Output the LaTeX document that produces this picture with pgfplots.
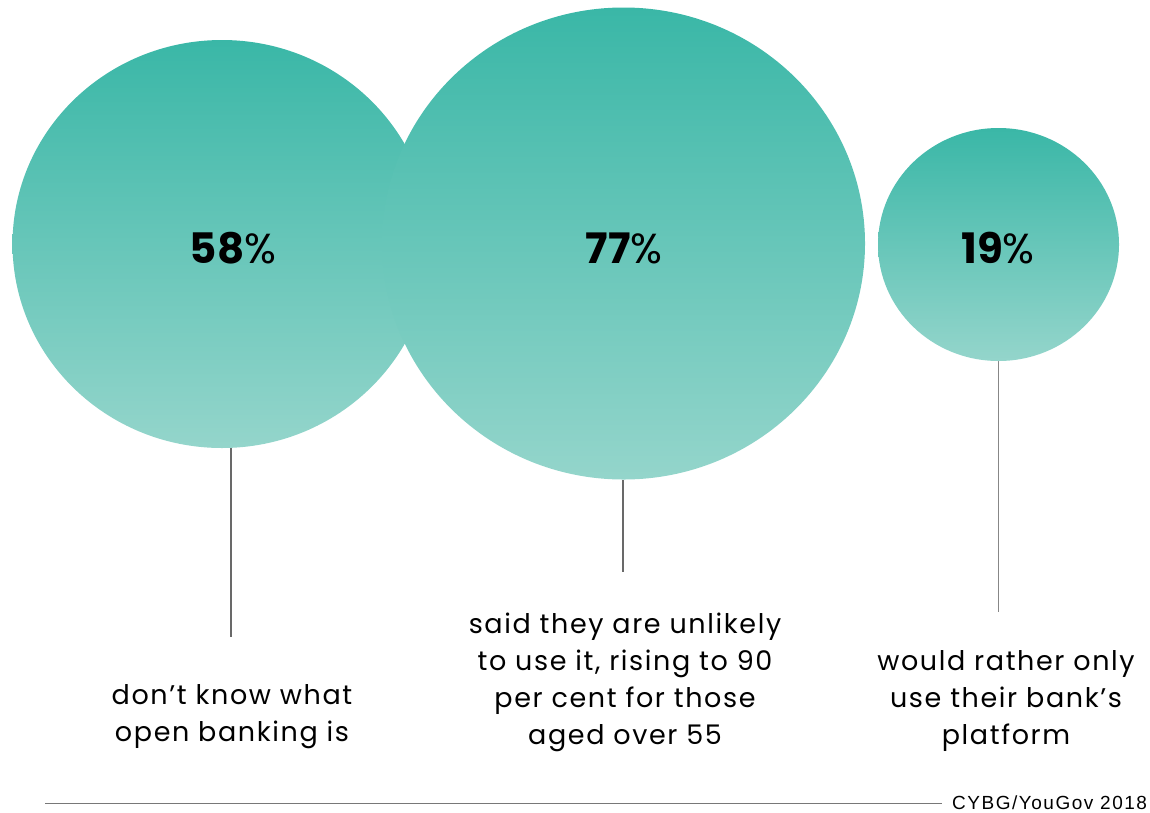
\documentclass[border=0pt]{standalone}
\usepackage{pgfplots}
\pgfplotsset{compat=1.18}
\usetikzlibrary{shapes.geometric}
\usepackage{fontspec}
\setmainfont{Poppins}
\newfontfamily\labfont[LetterSpace=6]{Poppins}
\newfontfamily\srcfont[LetterSpace=8]{Liberation Sans}
\definecolor{tealtop}{RGB}{58,183,167}
\definecolor{tealbot}{RGB}{148,213,203}
\definecolor{stem}{RGB}{105,105,105}
\definecolor{rule}{RGB}{120,120,120}
\begin{document}
\begin{tikzpicture}
\begin{axis}[
  x=1pt, y=1pt, xmin=0, xmax=1150, ymin=0, ymax=812, y dir=reverse,
  hide axis, clip=false,
]
% bubbles: centre x, centre y, radii
\addplot[only marks, mark=*, mark size=0.1pt, mark options={draw=none, fill=none},
  visualization depends on={\thisrow{rx}\as\rx},
  visualization depends on={\thisrow{ry}\as\ry},
  nodes near coords={},
  every node near coord/.style={anchor=center, ellipse, inner sep=0pt, draw=none,
     minimum width={2*\rx pt}, minimum height={2*\ry pt},
     top color=tealtop, bottom color=tealbot},
] table {
x y rx ry
222 244 209.5 204
623.5 243.5 241.5 236
998.5 244.5 120.5 116.5
};
% percentages
\addplot[only marks, mark=*, mark size=0.1pt, mark options={draw=none, fill=none},
  point meta=explicit symbolic,
  nodes near coords={\textbf{\pgfplotspointmeta}\%},
  every node near coord/.style={anchor=center, text=black,
     font=\fontsize{42}{44}\selectfont},
] table[meta=pct] {
x y pct
233 248 58
624 248 77
998 248 19
};
% stems
\addplot[stem, line width=1.3pt] coordinates {(231,448) (231,637)};
\addplot[stem, line width=1.3pt] coordinates {(623,480) (623,572)};
\addplot[stem!80, line width=1.3pt] coordinates {(998.5,361) (998.5,612)};
% bottom rule
\addplot[rule, line width=1pt] coordinates {(45,803) (942,803)};
% labels
\node[align=center, font=\labfont\fontsize{27}{37}\selectfont] at (axis cs:232,717)
  {don’t know what\\open banking is};
\node[align=center, font=\labfont\fontsize{27}{37}\selectfont] at (axis cs:625,682)
  {said they are unlikely\\to use it, rising to 90\\per cent for those\\aged over 55};
\node[align=center, font=\labfont\fontsize{27}{37}\selectfont] at (axis cs:1006,701)
  {would rather only\\use their bank’s\\platform};
\node[anchor=west, font=\srcfont\fontsize{19}{20}\selectfont, inner sep=0pt] at (axis cs:952,803)
  {CYBG/YouGov 2018};
\end{axis}
\pgfresetboundingbox
\path (0,0) rectangle (1150pt,812pt);
\end{tikzpicture}
\end{document}
